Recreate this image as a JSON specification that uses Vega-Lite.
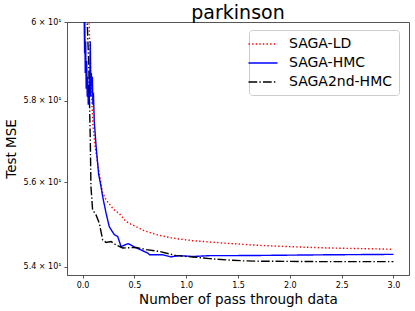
{
  "$schema": "https://vega.github.io/schema/vega-lite/v6.json",
  "autosize": "none",
  "width": 342,
  "height": 253,
  "padding": {"left": 67, "top": 22, "right": 6, "bottom": 36},
  "background": "white",
  "title": {"text": "parkinson", "font": "DejaVu Sans", "fontSize": 19, "fontWeight": "normal", "color": "black", "anchor": "middle", "offset": 3, "dy": 8},
  "config": {
    "view": {"stroke": "#555555", "strokeWidth": 1},
    "axis": {"domainColor": "#555555", "tickColor": "#555555", "tickSize": 3, "grid": false, "labelFont": "DejaVu Sans", "labelColor": "black", "titleFont": "DejaVu Sans", "titleFontWeight": "normal", "titleColor": "black"}
  },
  "data": {"values": [
    {"series": "SAGA-LD", "x": 0.05, "y": 61.0},
    {"series": "SAGA-LD", "x": 0.065, "y": 59.8},
    {"series": "SAGA-LD", "x": 0.08, "y": 58.7},
    {"series": "SAGA-LD", "x": 0.087, "y": 58.15},
    {"series": "SAGA-LD", "x": 0.1, "y": 57.4},
    {"series": "SAGA-LD", "x": 0.12, "y": 56.9},
    {"series": "SAGA-LD", "x": 0.155, "y": 56.3},
    {"series": "SAGA-LD", "x": 0.194, "y": 55.75},
    {"series": "SAGA-LD", "x": 0.227, "y": 55.58},
    {"series": "SAGA-LD", "x": 0.3, "y": 55.35},
    {"series": "SAGA-LD", "x": 0.355, "y": 55.25},
    {"series": "SAGA-LD", "x": 0.42, "y": 55.06},
    {"series": "SAGA-LD", "x": 0.517, "y": 54.94},
    {"series": "SAGA-LD", "x": 0.6, "y": 54.84},
    {"series": "SAGA-LD", "x": 0.72, "y": 54.75},
    {"series": "SAGA-LD", "x": 0.85, "y": 54.68},
    {"series": "SAGA-LD", "x": 0.936, "y": 54.65},
    {"series": "SAGA-LD", "x": 1.065, "y": 54.61},
    {"series": "SAGA-LD", "x": 1.388, "y": 54.55},
    {"series": "SAGA-LD", "x": 1.71, "y": 54.5},
    {"series": "SAGA-LD", "x": 2.0, "y": 54.47},
    {"series": "SAGA-LD", "x": 2.356, "y": 54.44},
    {"series": "SAGA-LD", "x": 3.0, "y": 54.41},
    {"series": "SAGA-HMC", "x": 0.015, "y": 60.3},
    {"series": "SAGA-HMC", "x": 0.02, "y": 59.2},
    {"series": "SAGA-HMC", "x": 0.022, "y": 60.0},
    {"series": "SAGA-HMC", "x": 0.026, "y": 58.7},
    {"series": "SAGA-HMC", "x": 0.03, "y": 59.5},
    {"series": "SAGA-HMC", "x": 0.035, "y": 58.3},
    {"series": "SAGA-HMC", "x": 0.04, "y": 59.0},
    {"series": "SAGA-HMC", "x": 0.045, "y": 58.1},
    {"series": "SAGA-HMC", "x": 0.05, "y": 58.6},
    {"series": "SAGA-HMC", "x": 0.055, "y": 57.9},
    {"series": "SAGA-HMC", "x": 0.06, "y": 58.4},
    {"series": "SAGA-HMC", "x": 0.065, "y": 58.0},
    {"series": "SAGA-HMC", "x": 0.07, "y": 58.5},
    {"series": "SAGA-HMC", "x": 0.075, "y": 59.5},
    {"series": "SAGA-HMC", "x": 0.08, "y": 58.1},
    {"series": "SAGA-HMC", "x": 0.085, "y": 58.7},
    {"series": "SAGA-HMC", "x": 0.09, "y": 58.4},
    {"series": "SAGA-HMC", "x": 0.095, "y": 58.6},
    {"series": "SAGA-HMC", "x": 0.1, "y": 57.9},
    {"series": "SAGA-HMC", "x": 0.105, "y": 58.2},
    {"series": "SAGA-HMC", "x": 0.113, "y": 57.5},
    {"series": "SAGA-HMC", "x": 0.13, "y": 56.9},
    {"series": "SAGA-HMC", "x": 0.155, "y": 56.2},
    {"series": "SAGA-HMC", "x": 0.178, "y": 55.9},
    {"series": "SAGA-HMC", "x": 0.194, "y": 55.66},
    {"series": "SAGA-HMC", "x": 0.227, "y": 55.26},
    {"series": "SAGA-HMC", "x": 0.258, "y": 54.94},
    {"series": "SAGA-HMC", "x": 0.307, "y": 54.75},
    {"series": "SAGA-HMC", "x": 0.339, "y": 54.71},
    {"series": "SAGA-HMC", "x": 0.372, "y": 54.47},
    {"series": "SAGA-HMC", "x": 0.436, "y": 54.54},
    {"series": "SAGA-HMC", "x": 0.452, "y": 54.53},
    {"series": "SAGA-HMC", "x": 0.517, "y": 54.44},
    {"series": "SAGA-HMC", "x": 0.549, "y": 54.41},
    {"series": "SAGA-HMC", "x": 0.629, "y": 54.32},
    {"series": "SAGA-HMC", "x": 0.646, "y": 54.28},
    {"series": "SAGA-HMC", "x": 0.711, "y": 54.28},
    {"series": "SAGA-HMC", "x": 0.774, "y": 54.28},
    {"series": "SAGA-HMC", "x": 0.856, "y": 54.23},
    {"series": "SAGA-HMC", "x": 0.871, "y": 54.24},
    {"series": "SAGA-HMC", "x": 0.936, "y": 54.26},
    {"series": "SAGA-HMC", "x": 1.065, "y": 54.24},
    {"series": "SAGA-HMC", "x": 1.227, "y": 54.26},
    {"series": "SAGA-HMC", "x": 1.388, "y": 54.26},
    {"series": "SAGA-HMC", "x": 1.71, "y": 54.265},
    {"series": "SAGA-HMC", "x": 2.356, "y": 54.28},
    {"series": "SAGA-HMC", "x": 3.0, "y": 54.29},
    {"series": "SAGA2nd-HMC", "x": 0.03, "y": 61.0},
    {"series": "SAGA2nd-HMC", "x": 0.045, "y": 60.0},
    {"series": "SAGA2nd-HMC", "x": 0.06, "y": 58.9},
    {"series": "SAGA2nd-HMC", "x": 0.07, "y": 57.6},
    {"series": "SAGA2nd-HMC", "x": 0.075, "y": 57.0},
    {"series": "SAGA2nd-HMC", "x": 0.081, "y": 55.9},
    {"series": "SAGA2nd-HMC", "x": 0.097, "y": 55.34},
    {"series": "SAGA2nd-HMC", "x": 0.13, "y": 55.22},
    {"series": "SAGA2nd-HMC", "x": 0.162, "y": 55.02},
    {"series": "SAGA2nd-HMC", "x": 0.194, "y": 54.63},
    {"series": "SAGA2nd-HMC", "x": 0.227, "y": 54.57},
    {"series": "SAGA2nd-HMC", "x": 0.275, "y": 54.59},
    {"series": "SAGA2nd-HMC", "x": 0.323, "y": 54.51},
    {"series": "SAGA2nd-HMC", "x": 0.387, "y": 54.44},
    {"series": "SAGA2nd-HMC", "x": 0.517, "y": 54.45},
    {"series": "SAGA2nd-HMC", "x": 0.581, "y": 54.42},
    {"series": "SAGA2nd-HMC", "x": 0.614, "y": 54.4},
    {"series": "SAGA2nd-HMC", "x": 0.742, "y": 54.36},
    {"series": "SAGA2nd-HMC", "x": 0.839, "y": 54.3},
    {"series": "SAGA2nd-HMC", "x": 0.904, "y": 54.26},
    {"series": "SAGA2nd-HMC", "x": 1.065, "y": 54.23},
    {"series": "SAGA2nd-HMC", "x": 1.227, "y": 54.19},
    {"series": "SAGA2nd-HMC", "x": 1.388, "y": 54.16},
    {"series": "SAGA2nd-HMC", "x": 1.549, "y": 54.14},
    {"series": "SAGA2nd-HMC", "x": 1.71, "y": 54.13},
    {"series": "SAGA2nd-HMC", "x": 2.356, "y": 54.12},
    {"series": "SAGA2nd-HMC", "x": 3.0, "y": 54.12}
  ]},
  "mark": {"type": "line", "clip": true, "strokeWidth": 1.4},
  "encoding": {
    "x": {"field": "x", "type": "quantitative", "scale": {"domain": [-0.15, 3.15], "nice": false, "zero": false},
      "axis": {"values": [0, 0.5, 1, 1.5, 2, 2.5, 3], "format": ".1f", "labelFontSize": 8, "labelPadding": 3, "title": "Number of pass through data", "titleFontSize": 13.5, "titlePadding": 3}},
    "y": {"field": "y", "type": "quantitative", "scale": {"type": "log", "domain": [53.81, 60], "nice": false, "zero": false},
      "axis": {"values": [54, 56, 58, 60], "labelExpr": "datum.value == 60 ? '6 × 10¹' : format(datum.value / 10, '.1f') + ' × 10¹'", "labelFontSize": 8, "labelPadding": 3, "title": "Test MSE", "titleFontSize": 13.5, "titlePadding": 5}},
    "color": {"field": "series", "type": "nominal", "sort": ["SAGA-LD", "SAGA-HMC", "SAGA2nd-HMC"],
      "scale": {"domain": ["SAGA-LD", "SAGA-HMC", "SAGA2nd-HMC"], "range": ["#ff0000", "#0000ff", "#000000"]},
      "legend": {"title": null, "orient": "none", "legendX": 182, "legendY": 8, "fillColor": "white", "strokeColor": "#cccccc", "cornerRadius": 3, "padding": 6, "symbolType": "M-2,0H2", "symbolSize": 210, "symbolStrokeWidth": 1.5, "labelFont": "DejaVu Sans", "labelFontSize": 14, "labelOffset": 18, "rowPadding": 4, "labelColor": "black"}},
    "strokeDash": {"field": "series", "type": "nominal", "sort": ["SAGA-LD", "SAGA-HMC", "SAGA2nd-HMC"],
      "scale": {"domain": ["SAGA-LD", "SAGA-HMC", "SAGA2nd-HMC"], "range": [[1.4, 2.2], [1, 0], [8.7, 2.2, 1.4, 2.2]]},
      "legend": null}
  }
}
